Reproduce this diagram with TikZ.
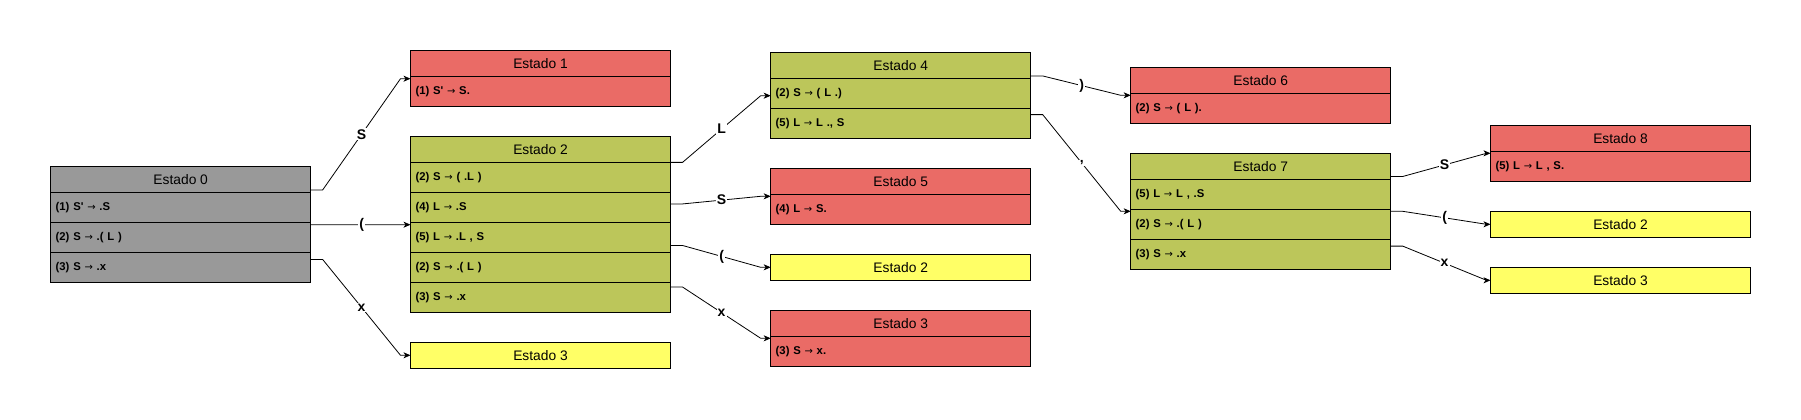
\documentclass[tikz,border=0pt]{standalone}
\usepackage{fontspec}
\setmainfont{Liberation Sans}
\newfontfamily\arrowfont{DejaVu Sans}
\newcommand\rarr{{\arrowfont\mdseries\fontsize{10}{12}\selectfont →}}
\usetikzlibrary{arrows.meta,fit,calc}
\definecolor{grayc}{HTML}{999999}
\definecolor{redc}{HTML}{EA6B66}
\definecolor{olivec}{RGB}{188,198,90}
\definecolor{yelc}{HTML}{FFFF66}
\tikzset{
  hdr/.style={draw, line width=0.9pt, minimum width=260pt, minimum height=26pt, inner sep=0pt,
    outer sep=0pt, anchor=north west, font=\fontsize{13.8}{16}\selectfont},
  itemrow/.style={draw, line width=0.9pt, minimum width=260pt, minimum height=30pt, inner xsep=5pt,
    inner ysep=0pt, outer sep=0pt, text width=250pt, align=left, anchor=north west,
    font=\bfseries\fontsize{11.3}{13}\selectfont},
  grp/.style={inner sep=0pt, outer sep=0pt},
  edge/.style={draw, line width=0.8pt, -{Stealth[length=7pt,width=6pt,inset=2pt]}},
  lbl/.style={fill=white, inner sep=1pt, font=\bfseries\fontsize{14}{16}\selectfont}
}
\begin{document}
\begin{tikzpicture}[x=1pt,y=-1pt]
\useasboundingbox (0,0) rectangle (1801,420);
% Estado 0
\node[hdr, fill=grayc] (h0) at (50.7,166.7) {Estado 0};
\node[itemrow, fill=grayc] (r0a) at (h0.south west) {(1) S\textquotesingle{} \rarr{} .S};
\node[itemrow, fill=grayc] (r0b) at (r0a.south west) {(2) S \rarr{} .( L )};
\node[itemrow, fill=grayc] (r0c) at (r0b.south west) {(3) S \rarr{} .x};
\node[grp, fit=(h0)(r0c)] (s0) {};
% Estado 1
\node[hdr, fill=redc] (h1) at (410.5,50.7) {Estado 1};
\node[itemrow, fill=redc] (r1a) at (h1.south west) {(1) S\textquotesingle{} \rarr{} S.};
\node[grp, fit=(h1)(r1a)] (s1) {};
% Estado 2
\node[hdr, fill=olivec] (h2) at (410.5,136.7) {Estado 2};
\node[itemrow, fill=olivec] (r2a) at (h2.south west) {(2) S \rarr{} ( .L )};
\node[itemrow, fill=olivec] (r2b) at (r2a.south west) {(4) L \rarr{} .S};
\node[itemrow, fill=olivec] (r2c) at (r2b.south west) {(5) L \rarr{} .L , S};
\node[itemrow, fill=olivec] (r2d) at (r2c.south west) {(2) S \rarr{} .( L )};
\node[itemrow, fill=olivec] (r2e) at (r2d.south west) {(3) S \rarr{} .x};
\node[grp, fit=(h2)(r2e)] (s2) {};
% Estado 3 (yellow, column 2)
\node[hdr, fill=yelc] (s3a) at (410.5,342.3) {Estado 3};
% Estado 4
\node[hdr, fill=olivec] (h4) at (770.7,52.7) {Estado 4};
\node[itemrow, fill=olivec] (r4a) at (h4.south west) {(2) S \rarr{} ( L .)};
\node[itemrow, fill=olivec] (r4b) at (r4a.south west) {(5) L \rarr{} L ., S};
\node[grp, fit=(h4)(r4b)] (s4) {};
% Estado 5
\node[hdr, fill=redc] (h5) at (770.7,168.3) {Estado 5};
\node[itemrow, fill=redc] (r5a) at (h5.south west) {(4) L \rarr{} S.};
\node[grp, fit=(h5)(r5a)] (s5) {};
% Estado 2 (yellow, column 3)
\node[hdr, fill=yelc] (s2b) at (770.7,254.3) {Estado 2};
% Estado 3 (red, column 3)
\node[hdr, fill=redc] (h3) at (770.7,310.3) {Estado 3};
\node[itemrow, fill=redc] (r3a) at (h3.south west) {(3) S \rarr{} x.};
\node[grp, fit=(h3)(r3a)] (s3b) {};
% Estado 6
\node[hdr, fill=redc] (h6) at (1130.7,67.3) {Estado 6};
\node[itemrow, fill=redc] (r6a) at (h6.south west) {(2) S \rarr{} ( L ).};
\node[grp, fit=(h6)(r6a)] (s6) {};
% Estado 7
\node[hdr, fill=olivec] (h7) at (1130.7,153.3) {Estado 7};
\node[itemrow, fill=olivec] (r7a) at (h7.south west) {(5) L \rarr{} L , .S};
\node[itemrow, fill=olivec] (r7b) at (r7a.south west) {(2) S \rarr{} .( L )};
\node[itemrow, fill=olivec] (r7c) at (r7b.south west) {(3) S \rarr{} .x};
\node[grp, fit=(h7)(r7c)] (s7) {};
% Estado 8
\node[hdr, fill=redc] (h8) at (1490.5,125.3) {Estado 8};
\node[itemrow, fill=redc] (r8a) at (h8.south west) {(5) L \rarr{} L , S.};
\node[grp, fit=(h8)(r8a)] (s8) {};
% Estado 2 / 3 (yellow, column 5)
\node[hdr, fill=yelc] (s2c) at (1490.5,211.3) {Estado 2};
\node[hdr, fill=yelc] (s3c) at (1490.5,267.3) {Estado 3};

% edges from Estado 0
\draw[edge] ($(s0.north east)!0.2!(s0.south east)$) -- ++(12,0) -- node[lbl]{S} ([xshift=-10pt]s1.west) -- (s1.west);
\draw[edge] ($(s0.north east)!0.5!(s0.south east)$) -- ++(12,0) -- node[lbl]{(} ([xshift=-10pt]s2.west) -- (s2.west);
\draw[edge] ($(s0.north east)!0.8!(s0.south east)$) -- ++(12,0) -- node[lbl]{x} ([xshift=-10pt]s3a.west) -- (s3a.west);
% edges from Estado 2
\draw[edge] ($(s2.north east)!0.146!(s2.south east)$) -- ++(12,0) -- node[lbl]{L} ([xshift=-10pt]s4.west) -- (s4.west);
\draw[edge] ($(s2.north east)!0.382!(s2.south east)$) -- ++(12,0) -- node[lbl]{S} ([xshift=-10pt]s5.west) -- (s5.west);
\draw[edge] ($(s2.north east)!0.618!(s2.south east)$) -- ++(12,0) -- node[lbl]{(} ([xshift=-10pt]s2b.west) -- (s2b.west);
\draw[edge] ($(s2.north east)!0.854!(s2.south east)$) -- ++(12,0) -- node[lbl]{x} ([xshift=-10pt]s3b.west) -- (s3b.west);
% edges from Estado 4
\draw[edge] ($(s4.north east)!0.27!(s4.south east)$) -- ++(12,0) -- node[lbl]{)} ([xshift=-10pt]s6.west) -- (s6.west);
\draw[edge] ($(s4.north east)!0.72!(s4.south east)$) -- ++(12,0) -- node[lbl]{,} ([xshift=-10pt]s7.west) -- (s7.west);
% edges from Estado 7
\draw[edge] ($(s7.north east)!0.2!(s7.south east)$) -- ++(12,0) -- node[lbl]{S} ([xshift=-4pt]s8.west) -- (s8.west);
\draw[edge] ($(s7.north east)!0.5!(s7.south east)$) -- ++(12,0) -- node[lbl]{(} ([xshift=-4pt]s2c.west) -- (s2c.west);
\draw[edge] ($(s7.north east)!0.8!(s7.south east)$) -- ++(12,0) -- node[lbl]{x} ([xshift=-4pt]s3c.west) -- (s3c.west);
\end{tikzpicture}
\end{document}
